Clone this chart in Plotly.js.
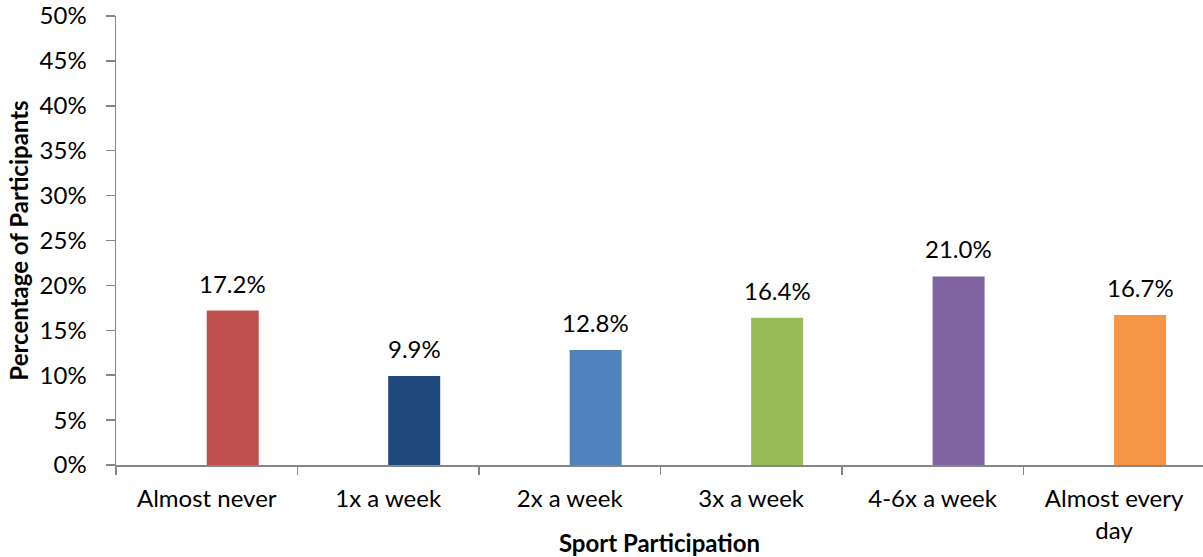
<!DOCTYPE html>
<html>
<head>
<meta charset="utf-8">
<script src="https://cdn.plot.ly/plotly-3.0.1.min.js"></script>
<style>
  html, body { margin: 0; padding: 0; background: #fff; }
  #chart { width: 1203px; height: 557px; }
</style>
</head>
<body>
<div id="chart"></div>
<script>
// Share of participants by how often they take part in sport
const categories = ["Almost never", "1x a week", "2x a week", "3x a week", "4-6x a week", "Almost every<br>day"];
const percentages = [17.2, 9.9, 12.8, 16.4, 21.0, 16.7];
const barColors = ["#C0504D", "#1F497D", "#4F81BD", "#9BBB59", "#8064A2", "#F79646"];
const yTickValues = [0, 5, 10, 15, 20, 25, 30, 35, 40, 45, 50];
const yTickLabels = ["0%", "5%", "10%", "15%", "20%", "25%", "30%", "35%", "40%", "45%", "50%"];

const FONT = "Lato, 'Open Sans', sans-serif";
const AXIS_GREY = "#868686";
const BAR_WIDTH = 0.2865;   // in category units; bars start at the category centre

const trace = {
  type: "bar",
  x: categories,
  y: percentages,
  marker: { color: barColors },
  width: BAR_WIDTH,
  offset: 0,
  hoverinfo: "x+y"
};

// value labels sit a little above each bar, centred on it
const valueLabels = percentages.map((v, i) => ({
  x: i + BAR_WIDTH / 2,
  y: v,
  xref: "x",
  yref: "y",
  text: v.toFixed(1) + "%",
  showarrow: false,
  yanchor: "bottom",
  yshift: 11,
  font: { family: FONT, size: 24, color: "#000" }
}));

const layout = {
  width: 1203,
  height: 557,
  margin: { l: 116, r: 0, t: 16, b: 92 },
  paper_bgcolor: "#fff",
  plot_bgcolor: "#fff",
  showlegend: false,
  font: { family: FONT, size: 24, color: "#000" },
  annotations: valueLabels,
  xaxis: {
    type: "category",
    range: [-0.5, 5.49],
    showline: true,
    linecolor: AXIS_GREY,
    linewidth: 1.5,
    ticks: "outside",
    tickson: "boundaries",
    ticklen: 8,
    tickcolor: AXIS_GREY,
    tickwidth: 1.5,
    showgrid: false,
    zeroline: false,
    automargin: false,
    tickfont: { family: FONT, size: 24, color: "#000" },
    ticklabelstandoff: 12,
    title: { text: "<b>Sport Participation</b>", font: { family: FONT, size: 24, color: "#000" }, standoff: 0 }
  },
  yaxis: {
    range: [0, 50],
    tickvals: yTickValues,
    ticktext: yTickLabels,
    showline: true,
    linecolor: AXIS_GREY,
    linewidth: 1.5,
    ticks: "outside",
    ticklen: 9,
    tickcolor: AXIS_GREY,
    tickwidth: 1.5,
    showgrid: false,
    zeroline: false,
    automargin: false,
    tickfont: { family: FONT, size: 24, color: "#000" },
    ticklabelstandoff: 14,
    title: { text: "<b>Percentage of Participants</b>", font: { family: FONT, size: 24, color: "#000" }, standoff: 4 }
  }
};

Plotly.newPlot("chart", [trace], layout, { displayModeBar: false, staticPlot: true });
</script>
</body>
</html>
